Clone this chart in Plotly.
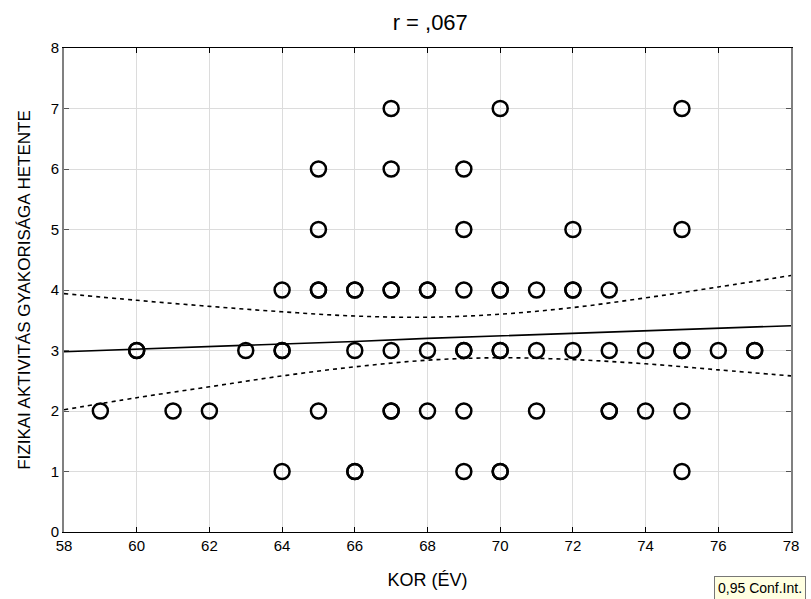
import plotly.graph_objects as go

# Scatter data (age, weekly physical activity frequency); repeated pairs = overlapping cases
age = [67, 70, 75,
       65, 67, 69,
       65, 69, 72, 75,
       64, 65, 65, 66, 66, 67, 67, 68, 68, 69, 70, 70, 71, 72, 72, 73,
       60, 60, 63, 64, 64, 66, 67, 68, 69, 69, 70, 70, 71, 72, 73, 74, 75, 75, 76, 77, 77,
       59, 61, 62, 65, 67, 67, 68, 69, 71, 73, 73, 74, 75,
       64, 66, 66, 69, 70, 70, 75]
activity = [7, 7, 7,
            6, 6, 6,
            5, 5, 5, 5,
            4, 4, 4, 4, 4, 4, 4, 4, 4, 4, 4, 4, 4, 4, 4, 4,
            3, 3, 3, 3, 3, 3, 3, 3, 3, 3, 3, 3, 3, 3, 3, 3, 3, 3, 3, 3, 3,
            2, 2, 2, 2, 2, 2, 2, 2, 2, 2, 2, 2, 2,
            1, 1, 1, 1, 1, 1, 1]

# Regression line and 95% confidence band
fit_x = [58, 60, 62, 64, 66, 68, 70, 72, 74, 76, 78]
fit_y = [2.98, 3.02, 3.07, 3.11, 3.15, 3.20, 3.24, 3.28, 3.32, 3.37, 3.41]
ci_upper = [3.94, 3.83, 3.73, 3.64, 3.57, 3.55, 3.60, 3.71, 3.87, 4.05, 4.24]
ci_lower = [2.02, 2.22, 2.40, 2.58, 2.73, 2.84, 2.88, 2.85, 2.78, 2.68, 2.58]

x_ticks = list(range(58, 79, 2))
y_ticks = list(range(0, 9))

FONT = "Arial, Liberation Sans, sans-serif"

fig = go.Figure()
fig.add_trace(go.Scatter(x=fit_x, y=ci_upper, mode="lines", line=dict(color="black", width=1.6, dash="4px,4px", shape="spline"), hoverinfo="skip"))
fig.add_trace(go.Scatter(x=fit_x, y=ci_lower, mode="lines", line=dict(color="black", width=1.6, dash="4px,4px", shape="spline"), hoverinfo="skip"))
fig.add_trace(go.Scatter(x=fit_x, y=fit_y, mode="lines", line=dict(color="black", width=1.6)))
fig.add_trace(go.Scatter(x=age, y=activity, mode="markers",
                         marker=dict(symbol="circle-open", size=15, color="black", line=dict(width=2.5, color="black"))))

fig.update_layout(
    width=811, height=599,
    margin=dict(l=64, r=14, t=48, b=66),
    plot_bgcolor="white", paper_bgcolor="white",
    showlegend=False,
    font=dict(family=FONT, color="black", size=15),
    title=dict(text="r = ,067", x=0.5305, xanchor="center", y=0.962, yanchor="middle",
               font=dict(size=22, family=FONT, color="black")),
    xaxis=dict(range=[58, 78], tickvals=x_ticks, ticktext=[str(v) for v in x_ticks],
               showgrid=True, gridcolor="#dcdcdc", gridwidth=1, zeroline=False,
               showline=True, linecolor="black", linewidth=1, mirror="ticks",
               ticks="inside", ticklen=5, tickcolor="black",
               tickfont=dict(size=15, family=FONT),
               title=dict(text="KOR (ÉV)", font=dict(size=18, family=FONT), standoff=20)),
    yaxis=dict(range=[0, 8], tickvals=y_ticks, ticktext=[str(v) for v in y_ticks],
               showgrid=True, gridcolor="#dcdcdc", gridwidth=1, zeroline=False,
               showline=True, linecolor="#808080", linewidth=2, mirror="ticks",
               ticks="inside", ticklen=5, tickcolor="#555555",
               tickfont=dict(size=15, family=FONT),
               title=dict(text="FIZIKAI AKTIVITÁS GYAKORISÁGA HETENTE", font=dict(size=17, family=FONT), standoff=16)),
    annotations=[dict(text="0,95 Conf.Int.", xref="paper", yref="paper", x=1.021, y=-0.09,
                      xanchor="right", yanchor="top", showarrow=False,
                      font=dict(size=14, family=FONT, color="black"),
                      bgcolor="#ffffe1", bordercolor="#777777", borderwidth=1, borderpad=3)],
)

fig.write_html("out.html")
